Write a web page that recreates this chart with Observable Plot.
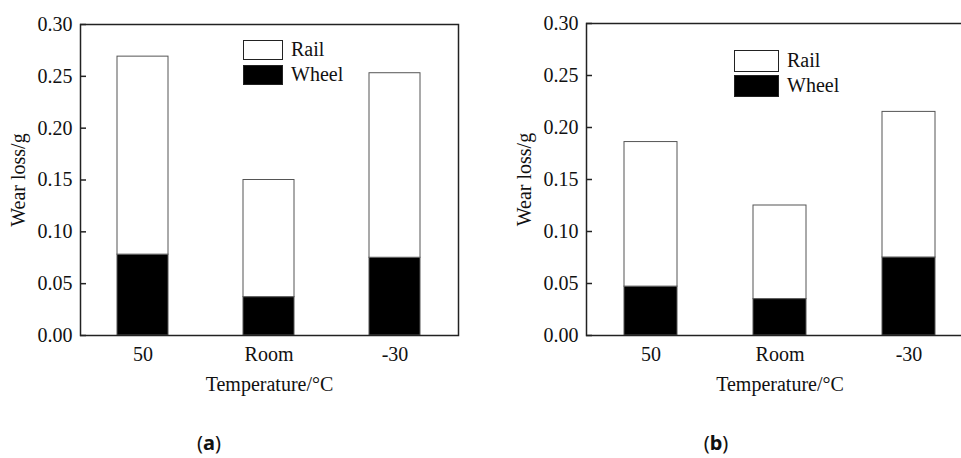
<!DOCTYPE html>
<html><head><meta charset="utf-8">
<script src="https://cdn.jsdelivr.net/npm/d3@7"></script>
<script src="https://cdn.jsdelivr.net/npm/@observablehq/plot@0.6"></script>
<style>
html,body{margin:0;padding:0;background:#fff;}
#wrap{position:relative;width:961px;height:458px;overflow:hidden;font-family:"Liberation Serif","Times New Roman",serif;color:#111;}
#wrap svg, #wrap svg text{font-family:"Liberation Serif","Times New Roman",serif !important;font-variant:normal !important;}
.panel{position:absolute;top:0;}
.box{position:absolute;box-sizing:border-box;border:1px solid #222;}
.ltxt{position:absolute;font-size:20px;line-height:20px;white-space:nowrap;}
.plab{position:absolute;font-family:"Noto Sans","DejaVu Sans",sans-serif;font-size:20px;line-height:20px;transform:translateX(-50%);white-space:nowrap;}
</style></head>
<body><div id="wrap"></div>
<script>
const categories = ["50", "Room", "-30"];
const seriesNames = ["Rail", "Wheel"];
const wheelA = [0.078, 0.037, 0.075];
const railA = [0.191, 0.113, 0.178];
const wheelB = [0.047, 0.035, 0.075];
const railB = [0.139, 0.090, 0.140];
const yTicks = [0.00, 0.05, 0.10, 0.15, 0.20, 0.25, 0.30];
const panelLabels = ["a", "b"];
const xTitle = "Temperature/°C";
const yTitle = "Wear loss/g";

const wrap = document.getElementById("wrap");
const serif = "Liberation Serif, Times New Roman, serif";

function makePanel(wheel, rail, cfg) {
  const rows = [];
  categories.forEach((c, i) => {
    rows.push({cat: c, series: "Wheel", v: wheel[i]});
    rows.push({cat: c, series: "Rail", v: rail[i]});
  });
  return Plot.plot({
    width: cfg.width, height: 458,
    marginLeft: cfg.ml, marginRight: cfg.mr, marginTop: cfg.mt, marginBottom: 123,
    style: {fontFamily: serif, fontSize: "20px", color: "#111", background: "transparent", overflow: "visible"},
    x: {domain: categories, paddingInner: cfg.pi, paddingOuter: cfg.pi / 2, label: null},
    y: {domain: [0, 0.30]},
    color: {domain: ["Wheel", "Rail"], range: ["#000", "#fff"]},
    marks: [
      Plot.barY(rows, {x: "cat", y: "v", fill: "series", stroke: "#555", strokeWidth: 1, order: ["Wheel", "Rail"]}),
      Plot.frame({stroke: "#222", strokeWidth: 1.5}),
      Plot.axisY({ticks: yTicks, tickSize: 0, tickPadding: 8, tickFormat: d => d.toFixed(2), label: yTitle, labelAnchor: "center", labelArrow: "none", labelOffset: 70, fontFamily: serif, fontSize: 20}),
      Plot.axisY({ticks: yTicks, tickSize: 6, dx: 6, tickFormat: () => "", label: null, stroke: "#222", strokeWidth: 1.5}),
      Plot.axisX({tickSize: 0, tickPadding: 11, label: xTitle, labelAnchor: "center", labelArrow: "none", labelOffset: 55, fontFamily: serif, fontSize: 20})
    ]
  });
}

function addPanel(wheel, rail, cfg, leg, lab) {
  const p = makePanel(wheel, rail, cfg);
  p.classList.add("panel");
  p.style.left = cfg.left + "px";
  wrap.appendChild(p);
  seriesNames.forEach((s, i) => {
    const b = document.createElement("div");
    b.className = "box";
    b.style.left = leg.x + "px";
    b.style.top = (leg.y + i * leg.gap) + "px";
    b.style.width = leg.w + "px";
    b.style.height = leg.h + "px";
    b.style.background = s === "Wheel" ? "#000" : "#fff";
    wrap.appendChild(b);
    const t = document.createElement("div");
    t.className = "ltxt";
    t.textContent = s;
    t.style.left = (leg.x + leg.w + 8) + "px";
    t.style.top = (leg.y + i * leg.gap + leg.h / 2 - 11) + "px";
    wrap.appendChild(t);
  });
  const l = document.createElement("div");
  l.className = "plab";
  l.innerHTML = "(<b>" + lab.text + "</b>)";
  l.style.left = lab.x + "px";
  l.style.top = "433px";
  wrap.appendChild(l);
}

addPanel(wheelA, railA, {left: 0, width: 480, ml: 80, mr: 22, mt: 24, pi: 0.595},
  {x: 243, y: 40, w: 40, h: 20, gap: 25}, {text: panelLabels[0], x: 209});
addPanel(wheelB, railB, {left: 480, width: 500, ml: 106, mr: 7, mt: 23, pi: 0.593},
  {x: 734, y: 50, w: 45, h: 22, gap: 25}, {text: panelLabels[1], x: 716});
</script>
</body></html>
